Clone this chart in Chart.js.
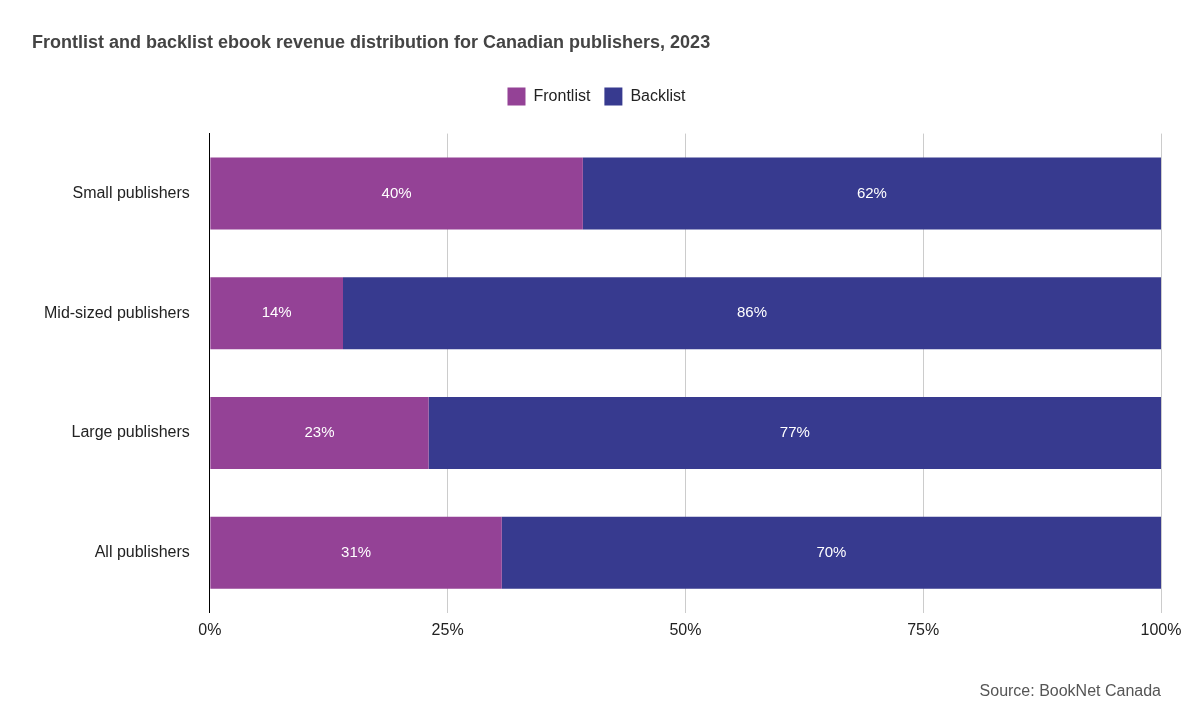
<!DOCTYPE html>
<html>
<head>
<meta charset="utf-8">
<script src="https://cdn.jsdelivr.net/npm/chart.js@4"></script>
<style>
  html, body { margin: 0; padding: 0; background: #fff; }
  #wrap { width: 1191px; height: 727px; }
</style>
</head>
<body>
<div id="wrap"><canvas id="grafico"></canvas></div>
<script>
const categorias = ['Small publishers', 'Mid-sized publishers', 'Large publishers', 'All publishers'];
const frontlist = [40, 14, 23, 31];
const backlist = [62, 86, 77, 70];
const ticksX = ['0%', '25%', '50%', '75%', '100%'];

// 100% stacked: each row is scaled to its own total
const totais = frontlist.map((f, i) => f + backlist[i]);
const pct = arr => arr.map((v, i) => v / totais[i] * 100);
const fonte = '"Liberation Sans", Arial, sans-serif';

const rotulos = {
  id: 'rotulos',
  afterDatasetsDraw(chart) {
    const ctx = chart.ctx;
    ctx.save();
    ctx.fillStyle = '#ffffff';
    ctx.font = '15px ' + fonte;
    ctx.textAlign = 'center';
    ctx.textBaseline = 'middle';
    chart.data.datasets.forEach((ds, di) => {
      chart.getDatasetMeta(di).data.forEach((bar, i) => {
        const cx = (bar.x + bar.base) / 2;
        ctx.fillText(ds.raw[i] + '%', cx, bar.y);
      });
    });
    ctx.restore();
  }
};

// extra space under the legend
const espacoLegenda = {
  id: 'espacoLegenda',
  beforeInit(chart) {
    const fit = chart.legend.fit;
    chart.legend.fit = function () {
      fit.bind(chart.legend)();
      this.height += 18;
    };
  }
};

new Chart(document.getElementById('grafico').getContext('2d'), {
  type: 'bar',
  data: {
    labels: categorias,
    datasets: [
      { label: 'Frontlist', data: pct(frontlist), raw: frontlist, backgroundColor: '#944296' },
      { label: 'Backlist', data: pct(backlist), raw: backlist, backgroundColor: '#373a8f' }
    ]
  },
  options: {
    indexAxis: 'y',
    responsive: true,
    maintainAspectRatio: false,
    animation: false,
    layout: { padding: { left: 32, right: 30, top: 10, bottom: 26 } },
    datasets: { bar: { categoryPercentage: 1, barPercentage: 0.6 } },
    scales: {
      x: {
        stacked: true,
        min: 0,
        max: 100,
        ticks: {
          stepSize: 25,
          color: '#222',
          padding: 8,
          font: { size: 16, family: fonte },
          callback: (v, i) => ticksX[i]
        },
        grid: { color: '#cccccc', drawTicks: false },
        border: { display: false }
      },
      y: {
        stacked: true,
        ticks: { color: '#222', padding: 12, font: { size: 16, family: fonte } },
        grid: { display: false },
        border: { color: '#000', width: 1 }
      }
    },
    plugins: {
      title: {
        display: true,
        text: 'Frontlist and backlist ebook revenue distribution for Canadian publishers, 2023',
        align: 'start',
        color: '#444',
        font: { size: 18, weight: 'bold', family: fonte },
        padding: { top: 22, bottom: 20 }
      },
      subtitle: {
        display: true,
        position: 'bottom',
        align: 'end',
        text: 'Source: BookNet Canada',
        color: '#555',
        font: { size: 16, family: fonte },
        padding: { top: 34 }
      },
      legend: {
        labels: {
          boxWidth: 18, boxHeight: 18, color: '#222', padding: 14,
          font: { size: 16, family: fonte }
        }
      },
      tooltip: { enabled: false }
    }
  },
  plugins: [rotulos, espacoLegenda]
});
</script>
</body>
</html>
